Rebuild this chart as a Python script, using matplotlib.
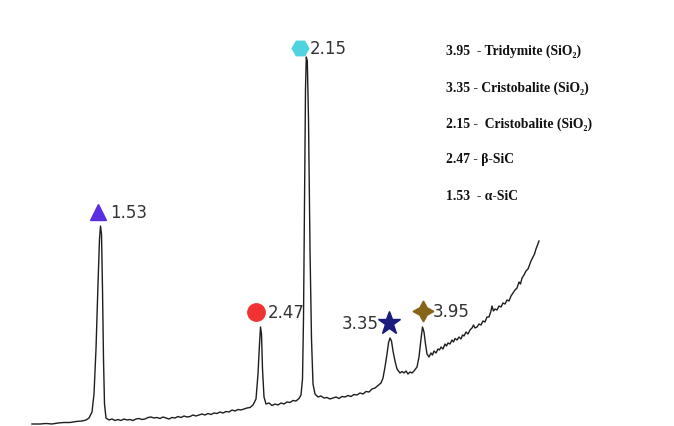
import matplotlib
matplotlib.use("Agg")
import matplotlib.pyplot as plt

# Traced spectrum as (x position, pixel row) pairs
trace_points = [
    (32, 425), (40, 425), (46, 424.5), (52, 425), (58, 424), (64, 423.5), (70, 423.5), (76, 422.5),
    (82, 422), (86, 421), (89, 419), (92, 413), (94, 395), (96, 350), (98, 285), (99.5, 240),
    (100.5, 227), (101.5, 235), (102.5, 290), (103.5, 360), (104.5, 405), (106, 419),
    (109, 421), (112, 420), (115, 421.5), (118, 420.5), (121, 421.5), (124, 420), (127, 421),
    (130, 420.5), (133, 421.5), (136, 420), (139, 419.5), (142, 420.5), (145, 420), (148, 418.5),
    (151, 418), (154, 419), (157, 418.5), (160, 419.5), (163, 418), (166, 419), (169, 420),
    (172, 418.5), (175, 419), (178, 417.5), (181, 418.5), (184, 417), (187, 418), (190, 417.5),
    (193, 416), (196, 417), (199, 416), (202, 415), (205, 416), (208, 414.5), (211, 415.5),
    (214, 414), (217, 414.5), (220, 413), (223, 414), (226, 412.5), (229, 413), (232, 411),
    (235, 412), (238, 410.5), (241, 411), (244, 410), (247, 409), (250, 408.5), (253, 406),
    (256, 400), (258, 375), (259.5, 345), (260.5, 328), (261.5, 335), (262.5, 370), (264, 398),
    (266, 405), (269, 404), (272, 406.5), (275, 405), (278, 406), (281, 404), (284, 405),
    (287, 403), (290, 403.5), (293, 401.5), (296, 402), (299, 399.5), (301, 396), (302.5, 380),
    (303.5, 320), (304.5, 200), (305.5, 90), (306.3, 58), (307.3, 62), (308.5, 120), (310, 250),
    (311.5, 340), (313, 385), (315, 395), (318, 398), (321, 397), (324, 399), (327, 398.5),
    (330, 400), (333, 399), (336, 398), (339, 399.5), (342, 397.5), (345, 398), (348, 396.5),
    (351, 397.5), (354, 395.5), (357, 396), (360, 394), (363, 395), (366, 392.5), (369, 393),
    (372, 390), (375, 389), (378, 386.5), (381, 384), (383, 379), (385, 368), (387, 355),
    (388.5, 344), (390, 339), (391.5, 342), (393, 352), (395, 362), (397, 370), (400, 374),
    (402, 372.5), (404, 374), (406, 372), (408, 375), (410, 373), (412, 374), (414, 372),
    (417, 368), (419, 358), (421, 340), (422.5, 328), (424, 333), (425.5, 345), (427, 355),
    (429, 358), (431, 354), (432.5, 356), (434, 352), (436, 354), (438, 350), (439.5, 351),
    (441, 348), (443, 350), (445, 345), (446.5, 347), (448, 344), (450, 345), (452, 341),
    (453.5, 343), (455, 339.5), (457, 341), (459, 338), (461, 340), (462.5, 336), (464, 337),
    (466, 333), (468, 335), (470, 331), (472, 329), (473.5, 326), (475, 329), (477, 328),
    (479, 325), (481, 326), (483, 322), (485, 323), (487, 318), (489, 318), (491, 312),
    (492, 307), (493.5, 312), (495, 310), (497, 311), (499, 307), (501, 308), (503, 304),
    (505, 305), (507, 301), (509, 302), (511, 297), (513, 294), (515, 291), (517, 289),
    (519, 283), (520.5, 285), (522, 279), (524, 276), (526, 272), (528, 270), (529.5, 266),
    (531, 262), (533, 258), (534.5, 255), (536, 250), (537.5, 246), (539, 242),
]
trace_x = [p[0] for p in trace_points]
trace_y = [427 - p[1] for p in trace_points]

# Peak annotations
peak_labels = ["1.53", "2.47", "2.15", "3.35", "3.95"]
marker_x = [98, 256, 300, 389, 423]
marker_y = [427 - 213, 427 - 313, 427 - 49, 427 - 324, 427 - 312]
marker_styles = ["^", "o", "H", "*", (4, 1, 0)]
marker_colors = ["#5a2fe0", "#f03232", "#4fd3e0", "#1c1c7e", "#86641a"]
marker_sizes = [12, 12.5, 12, 17, 15]
label_x = [110, 268, 310, 342, 433]

legend_lines = ["3.95  - Tridymite (SiO\u2082)",
                "3.35 - Cristobalite (SiO\u2082)",
                "2.15 -  Cristobalite (SiO\u2082)",
                "2.47 - \u03b2-SiC",
                "1.53  - \u03b1-SiC"]
legend_py = [51, 88, 124, 160, 197]

fig = plt.figure(figsize=(6.74, 4.27), dpi=100)
ax = fig.add_axes([0, 0, 1, 1])
ax.set_xlim(0, 674)
ax.set_ylim(0, 427)
ax.axis("off")

ax.plot(trace_x, trace_y, color="#1e1e1e", lw=1.0)

for mx, my, ms, mc, sz, lab, lx in zip(marker_x, marker_y, marker_styles, marker_colors,
                                       marker_sizes, peak_labels, label_x):
    ax.plot([mx], [my], marker=ms, color=mc, markersize=sz, linestyle="none")
    ax.text(lx, my, lab, fontsize=12, color="#333333", va="center", ha="left",
            family=["DejaVu Sans"])

for txt, py in zip(legend_lines, legend_py):
    ax.text(446, 427 - py, txt, fontsize=9.8, fontweight="bold", color="#111111",
            va="center", ha="left", family=["Liberation Serif", "DejaVu Serif"])

fig.savefig("out.png", dpi=100)
